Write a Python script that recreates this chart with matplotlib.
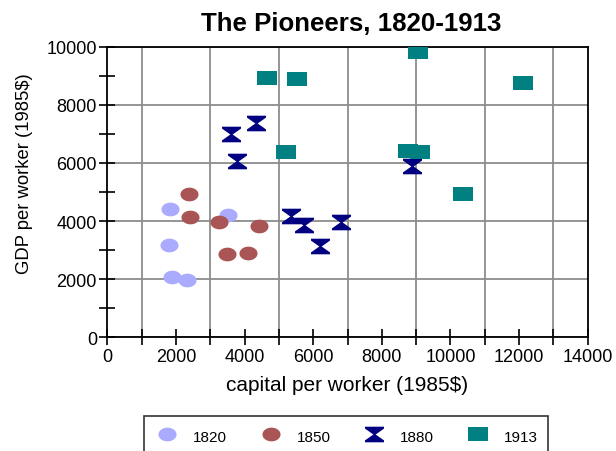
import numpy as np
import matplotlib
matplotlib.use('agg')
import matplotlib.pyplot as plt
from matplotlib.path import Path
from matplotlib.ticker import MultipleLocator

plt.rcParams['font.family'] = ['Liberation Sans', 'DejaVu Sans']

# capital per worker / GDP per worker (1985$)
x_1820 = [1830, 1800, 1880, 2330, 3530]
y_1820 = [4400, 3180, 2070, 1980, 4210]

x_1850 = [2390, 2410, 3260, 4430, 3500, 4100]
y_1850 = [4920, 4150, 3980, 3830, 2880, 2900]

x_1880 = [3600, 4340, 3780, 5350, 5730, 6210, 6820, 8870]
y_1880 = [7000, 7370, 6080, 4190, 3860, 3140, 3980, 5900]

x_1913 = [4650, 5540, 5200, 9040, 12120, 8770, 9110, 10370]
y_1913 = [8910, 8890, 6390, 9830, 8740, 6400, 6370, 4940]

# marker shapes
t = np.linspace(0, 2 * np.pi, 60)
ellipse = Path(np.column_stack([np.cos(t), 0.76 * np.sin(t)]))
rect = Path([(-1, -0.78), (1, -0.78), (1, 0.78), (-1, 0.78), (-1, -0.78)])
hourglass = Path([(-1, 0.82), (1, 0.82), (1, 0.62), (0.12, 0), (1, -0.62),
                  (1, -0.82), (-1, -0.82), (-1, -0.62), (-0.12, 0), (-1, 0.62),
                  (-1, 0.82)])

series = [
    ('1820', x_1820, y_1820, ellipse, '#aaaaff', 13),
    ('1850', x_1850, y_1850, ellipse, '#aa5555', 13),
    ('1880', x_1880, y_1880, hourglass, '#000080', 13.7),
    ('1913', x_1913, y_1913, rect, '#008080', 13.7),
]

fig = plt.figure(figsize=(6.16, 4.52), dpi=100)
ax = fig.add_axes([107.3 / 616, 1 - 338.3 / 452, 480.4 / 616, 290.6 / 452])

for name, xs, ys, mk, col, ms in series:
    ax.plot(xs, ys, linestyle='none', marker=mk, color=col, markersize=ms,
            markeredgewidth=0, label=name, zorder=3)

ax.set_xlim(0, 14000)
ax.set_ylim(0, 10000)
ax.xaxis.set_major_locator(MultipleLocator(2000))
ax.xaxis.set_minor_locator(MultipleLocator(1000))
ax.yaxis.set_major_locator(MultipleLocator(2000))
ax.yaxis.set_minor_locator(MultipleLocator(1000))

# odd thousands get the vertical lines, even thousands the horizontal ones
ax.grid(True, which='minor', axis='x', color='#8c8c8c', linewidth=1.3)
ax.grid(True, which='major', axis='y', color='#8c8c8c', linewidth=1.3)
ax.set_axisbelow(True)

ax.tick_params(which='both', direction='inout', length=11, width=1.2,
               colors='black', labelsize=13)
ax.tick_params(axis='x', which='both', pad=2)
ax.tick_params(axis='y', which='both', pad=2)
for s in ax.spines.values():
    s.set_linewidth(1.3)

ax.set_xlabel('capital per worker (1985$)', fontsize=15)
ax.xaxis.set_label_coords(0.5, -0.13)
ax.set_ylabel('GDP per worker (1985$)', fontsize=13.3)
ax.yaxis.set_label_coords(-0.155, 0.565)
ax.set_title('The Pioneers, 1820-1913', fontsize=18.6, fontweight='bold',
             pad=12, x=0.508)

leg = fig.legend(loc='upper center', bbox_to_anchor=(346 / 616, 1 - 417 / 452),
                 ncol=4, fontsize=11, frameon=True, fancybox=False,
                 edgecolor='black', handlelength=1.7, handletextpad=0.85,
                 handleheight=1.5, columnspacing=2.0, borderpad=0.7,
                 borderaxespad=0)
leg.get_frame().set_linewidth(1.2)

plt.savefig('out.png', dpi=100)
